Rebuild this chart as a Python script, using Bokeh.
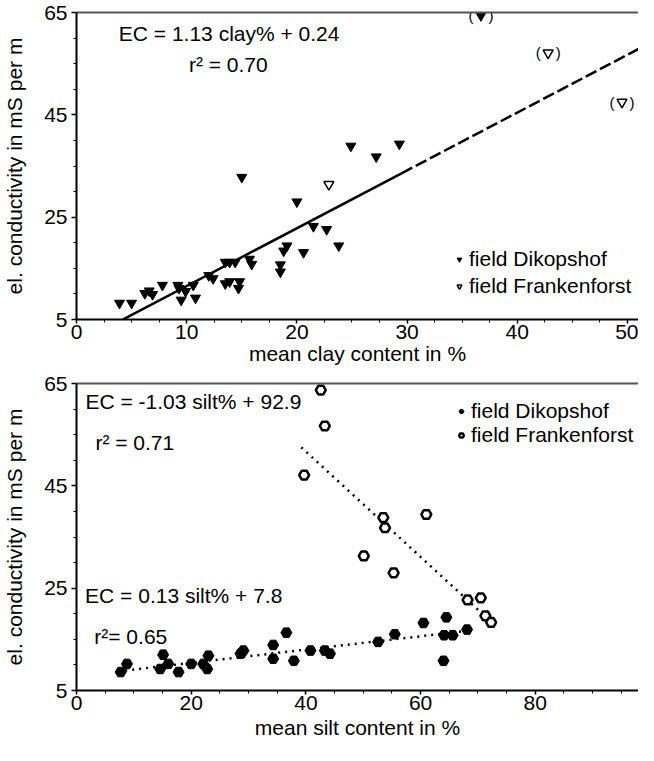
from bokeh.plotting import figure
from bokeh.models import FixedTicker, LinearAxis, Legend, LegendItem, Range1d, Label
from bokeh.layouts import column
from bokeh.embed import file_html
from bokeh.resources import INLINE
from bokeh.core.properties import value

# ---------------- data: top panel (clay) ----------------
clay_dik_x = [3.9, 5.0, 6.2, 6.6, 6.9, 7.8, 9.2, 9.3, 9.5, 9.9, 10.6, 10.8, 12.0, 12.4, 13.5,
              13.9, 14.4, 13.5, 13.9, 14.8, 14.7, 15.0, 15.7, 15.9, 18.5, 18.5, 18.8, 19.1,
              20.6, 20.0, 21.5, 22.7, 23.8, 24.9, 27.2, 29.3]
clay_dik_y = [8.2, 8.2, 10.1, 10.6, 9.9, 11.7, 11.7, 11.1, 8.8, 10.5, 11.7, 9.2, 13.6, 13.0, 16.2,
              16.2, 16.2, 12.0, 12.4, 12.4, 11.1, 32.8, 16.8, 15.8, 15.7, 14.3, 18.4, 19.4,
              18.1, 28.0, 23.2, 22.6, 19.4, 38.9, 36.8, 39.3]
clay_dik_out_x = [36.7]
clay_dik_out_y = [64.4]
clay_fra_x = [22.9]
clay_fra_y = [31.4]
clay_fra_out_x = [42.8, 49.5]
clay_fra_out_y = [57.1, 47.5]
clay_slope, clay_icpt = 1.13, 0.24
clay_fit_solid = [4.2, 29.5]
clay_fit_dash = [29.5, 52.0]

# ---------------- data: bottom panel (silt) ----------------
silt_dik_x = [7.7, 8.8, 14.6, 15.1, 16.0, 17.8, 20.0, 22.1, 22.8, 23.0, 28.6, 29.1, 34.3, 34.3,
              36.6, 37.9, 40.8, 43.3, 44.2, 52.6, 55.5, 60.5, 64.0, 64.1, 64.5, 65.6, 68.1]
silt_dik_y = [8.6, 10.2, 9.2, 12.0, 10.2, 8.6, 10.2, 10.2, 9.2, 11.8, 12.2, 12.8, 13.9, 11.2,
              16.3, 10.8, 12.8, 12.8, 12.2, 14.5, 16.0, 18.2, 10.8, 15.8, 19.3, 15.8, 16.9]
silt_fra_x = [42.6, 43.3, 39.7, 61.0, 53.5, 53.8, 50.1, 55.3, 68.2, 70.5, 71.3, 72.3]
silt_fra_y = [63.7, 56.7, 47.1, 39.4, 38.8, 36.8, 31.3, 28.0, 22.7, 23.1, 19.6, 18.3]
silt_dik_slope, silt_dik_icpt = 0.13, 7.8
silt_dik_fit_x = [8.5, 68.0]
silt_fra_slope, silt_fra_icpt = -1.03, 92.9
silt_fra_fit_x = [39.2, 71.0]

y_ticks = [5, 25, 45, 65]
y_minor = [10, 15, 20, 30, 35, 40, 50, 55, 60]
clay_ticks = [0, 10, 20, 30, 40, 50]
clay_minor = [2.5 * i for i in range(21)]
silt_ticks = [0, 20, 40, 60, 80]
silt_minor = [5 * i for i in range(20)]

FONT = "Liberation Sans"
FS = "21px"


def fit(xs, a, b):
    return [a * x + b for x in xs]


def make_fig(height, top_b, bottom_b, xmax, xticks, xminor, xlabel, xlab_standoff):
    p = figure(width=638, height=height, x_range=Range1d(0, xmax), y_range=Range1d(5, 65),
               output_backend="svg", toolbar_location=None,
               min_border_left=71, min_border_right=0, min_border_top=top_b,
               min_border_bottom=bottom_b)
    p.outline_line_color = None
    p.xgrid.visible = False
    p.ygrid.visible = False
    p.xaxis.ticker = FixedTicker(ticks=xticks, minor_ticks=xminor)
    p.yaxis.ticker = FixedTicker(ticks=y_ticks, minor_ticks=y_minor)
    p.xaxis.axis_label = xlabel
    p.yaxis.axis_label = "el. conductivity in mS per m"
    for ax in (p.xaxis, p.yaxis):
        ax.axis_line_width = 2
        ax.axis_line_color = "black"
        ax.major_tick_line_color = "black"
        ax.minor_tick_line_color = "black"
        ax.major_tick_line_width = 1.5
        ax.major_tick_in = 0
        ax.minor_tick_in = 0
        ax.major_label_text_font = FONT
        ax.major_label_text_font_size = FS
        ax.major_label_text_color = "black"
        ax.axis_label_text_font = FONT
        ax.axis_label_text_font_size = FS
        ax.axis_label_text_font_style = "normal"
        ax.axis_label_text_color = "black"
    p.xaxis.major_tick_out = 4
    p.xaxis.minor_tick_out = 3
    p.xaxis.major_label_standoff = 1
    p.xaxis.axis_label_standoff = xlab_standoff
    p.yaxis.major_tick_out = 5
    p.yaxis.minor_tick_out = 3
    p.yaxis.major_label_standoff = 4
    p.yaxis.axis_label_standoff = 15
    top_ax = LinearAxis(ticker=FixedTicker(ticks=[]), axis_line_color="#555555",
                        axis_line_width=2, major_tick_out=0, minor_tick_out=0,
                        major_tick_in=0, minor_tick_in=0, major_label_standoff=0,
                        axis_label_standoff=0, major_label_text_font_size="0px")
    p.add_layout(top_ax, "above")
    return p


def label(p, x, y, text):
    p.add_layout(Label(x=x, y=y, text=text, text_font=FONT, text_font_size=FS,
                       text_baseline="middle", text_align="left", text_color="black"))


def legend(p, items, loc, spacing):
    lg = Legend(items=items, location=loc, label_text_font=FONT, label_text_font_size=FS,
                label_text_color="black",
                glyph_width=12, glyph_height=14, label_standoff=4, spacing=spacing,
                padding=0, margin=0, border_line_color=None, background_fill_alpha=0,
                label_height=20)
    p.add_layout(lg)


# ---------------- top panel ----------------
p1 = make_fig(371, 12, 52, 51.0, clay_ticks, clay_minor, "mean clay content in %", 0)
p1.line(clay_fit_solid, fit(clay_fit_solid, clay_slope, clay_icpt), line_color="black",
        line_width=2.5)
p1.line(clay_fit_dash, fit(clay_fit_dash, clay_slope, clay_icpt), line_color="black",
        line_width=2.5, line_dash="12 4")
r_dik = p1.scatter(clay_dik_x, clay_dik_y, marker="inverted_triangle", size=10,
                   fill_color="black", line_color="black")
r_fra = p1.scatter(clay_fra_x, clay_fra_y, marker="inverted_triangle", size=10,
                   fill_color="white", line_color="black", line_width=1.5)
p1.scatter(clay_dik_out_x, clay_dik_out_y, marker="inverted_triangle", size=10,
           fill_color="black", line_color="black")
p1.scatter(clay_fra_out_x, clay_fra_out_y, marker="inverted_triangle", size=10,
           fill_color="white", line_color="black", line_width=1.5)
out_x = clay_dik_out_x + clay_fra_out_x
out_y = clay_dik_out_y + clay_fra_out_y
p1.text(out_x, out_y, text=value("("), x_offset=-10, text_font=value(FONT),
        text_font_size="15px", text_align="center", text_baseline="middle", text_color="black")
p1.text(out_x, out_y, text=value(")"), x_offset=10, text_font=value(FONT),
        text_font_size="15px", text_align="center", text_baseline="middle", text_color="black")
label(p1, 3.84, 60.8, "EC = 1.13 clay% + 0.24")
label(p1, 10.2, 54.8, "r² = 0.70")
legend(p1, [LegendItem(label="field Dikopshof", renderers=[r_dik]),
            LegendItem(label="field Frankenforst", renderers=[r_fra])], (377, 21), 3)

# ---------------- bottom panel ----------------
p2 = make_fig(374, 12, 55, 98.0, silt_ticks, silt_minor, "mean silt content in %", 3)
p2.line(silt_fra_fit_x, fit(silt_fra_fit_x, silt_fra_slope, silt_fra_icpt), line_color="black",
        line_width=2.5, line_dash="2 5")
p2.line(silt_dik_fit_x, fit(silt_dik_fit_x, silt_dik_slope, silt_dik_icpt), line_color="black",
        line_width=2.5, line_dash="2 5")
s_dik = p2.scatter(silt_dik_x, silt_dik_y, marker="hex", size=11,
                   fill_color="black", line_color="black")
s_fra = p2.scatter(silt_fra_x, silt_fra_y, marker="hex", size=10,
                   fill_color="white", line_color="black", line_width=2.5)
label(p2, 1.55, 61.5, "EC = -1.03 silt% + 92.9")
label(p2, 3.3, 53.5, "r² = 0.71")
label(p2, 1.5, 23.5, "EC = 0.13 silt% + 7.8")
label(p2, 3.1, 15.6, "r²= 0.65")
legend(p2, [LegendItem(label="field Dikopshof", renderers=[s_dik]),
            LegendItem(label="field Frankenforst", renderers=[s_fra])], (379, 243), 0)

layout = column(p1, p2, spacing=0)
open("out.html", "w").write(file_html(layout, INLINE))
